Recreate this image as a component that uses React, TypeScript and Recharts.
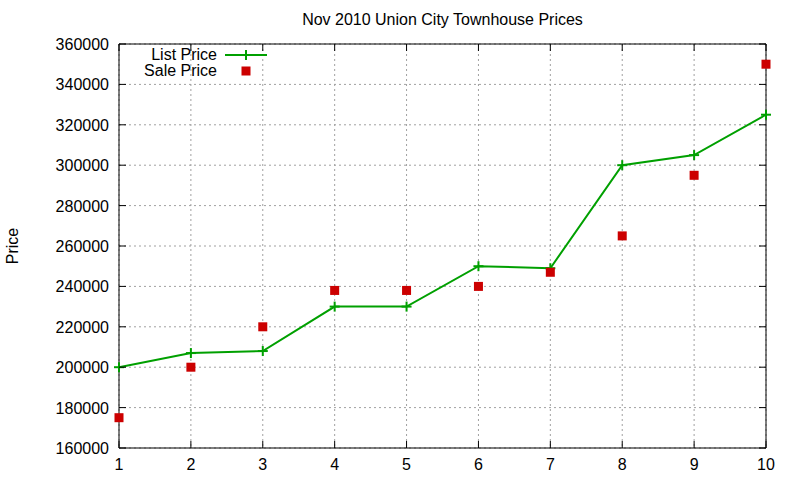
import React from "react";
import {
  ComposedChart,
  Line,
  Scatter,
  XAxis,
  YAxis,
  CartesianGrid,
  ReferenceLine,
} from "recharts";

const positions = [1, 2, 3, 4, 5, 6, 7, 8, 9, 10];
const listPrice = [200000, 207000, 208000, 230000, 230000, 250000, 249000, 300000, 305000, 325000];
const salePrice = [175000, 200000, 220000, 238000, 238000, 240000, 247000, 265000, 295000, 350000];
const yTicks = [160000, 180000, 200000, 220000, 240000, 260000, 280000, 300000, 320000, 340000, 360000];

const data = positions.map((x, i) => ({ x, list: listPrice[i], sale: salePrice[i] }));

const W = 800;
const H = 480;
const M = { top: 44, right: 34, bottom: 2, left: 0 };
const Y_W = 119;
const X_H = 30;
const LEFT = M.left + Y_W;
const RIGHT = W - M.right;
const TOP = M.top;
const BOTTOM = H - M.bottom - X_H;

const GREEN = "#00a000";
const RED = "#cc0000";
const FONT = "'Liberation Sans', Arial, sans-serif";

const XTick = (props: any) => {
  const { x, y, payload } = props;
  return (
    <g>
      <line x1={x} x2={x} y1={BOTTOM} y2={BOTTOM - 7} stroke="#000" />
      <line x1={x} x2={x} y1={TOP} y2={TOP + 7} stroke="#000" />
      <text x={x} y={y + 14} textAnchor="middle" fontSize={16} fill="#000" fontFamily={FONT}>
        {payload.value}
      </text>
    </g>
  );
};

const YTick = (props: any) => {
  const { y, payload } = props;
  return (
    <g>
      <line x1={LEFT} x2={LEFT + 7} y1={y} y2={y} stroke="#000" />
      <line x1={RIGHT} x2={RIGHT - 7} y1={y} y2={y} stroke="#000" />
      <text x={LEFT - 10} y={y + 6} textAnchor="end" fontSize={16} fill="#000" fontFamily={FONT}>
        {payload.value}
      </text>
    </g>
  );
};

const PlusDot = (props: any) => {
  const { cx, cy } = props;
  if (cx == null || cy == null) return null;
  return (
    <g stroke={GREEN} strokeWidth={2}>
      <line x1={cx - 5} x2={cx + 5} y1={cy} y2={cy} />
      <line x1={cx} x2={cx} y1={cy - 5} y2={cy + 5} />
    </g>
  );
};

const Square = (props: any) => {
  const { cx, cy } = props;
  return <rect x={cx - 4.5} y={cy - 4.5} width={9} height={9} fill={RED} />;
};

const LegendBox = () => (
  <div
    style={{
      position: "absolute",
      top: 47,
      left: 120,
      fontFamily: FONT,
      fontSize: 16,
      lineHeight: "16px",
      color: "#000",
    }}
  >
    <div style={{ display: "flex", alignItems: "center", height: 16 }}>
      <span style={{ width: 97, textAlign: "right" }}>List Price</span>
      <svg width={50} height={16} style={{ marginLeft: 8 }}>
        <line x1={0} x2={42} y1={8} y2={8} stroke={GREEN} strokeWidth={2} />
        <line x1={21} x2={21} y1={3} y2={13} stroke={GREEN} strokeWidth={2} />
      </svg>
    </div>
    <div style={{ display: "flex", alignItems: "center", height: 16 }}>
      <span style={{ width: 97, textAlign: "right" }}>Sale Price</span>
      <svg width={50} height={16} style={{ marginLeft: 8 }}>
        <rect x={16.5} y={3.5} width={9} height={9} fill={RED} />
      </svg>
    </div>
  </div>
);

export default function App() {
  return (
    <div style={{ position: "absolute", left: 0, top: 0, width: W, height: H, background: "#fff" }}>
      <div
        style={{
          position: "absolute",
          top: 11,
          left: LEFT,
          width: RIGHT - LEFT,
          textAlign: "center",
          fontFamily: FONT,
          fontSize: 16,
          color: "#000",
        }}
      >
        Nov 2010 Union City Townhouse Prices
      </div>
      <ComposedChart width={W} height={H} data={data} margin={M}>
        <CartesianGrid stroke="#a0a0a0" strokeDasharray="2 3" />
        <XAxis
          dataKey="x"
          type="number"
          domain={[1, 10]}
          ticks={positions}
          height={X_H}
          tickLine={false}
          axisLine={{ stroke: "#000" }}
          tick={<XTick />}
          interval={0}
        />
        <YAxis
          type="number"
          domain={[160000, 360000]}
          ticks={yTicks}
          width={Y_W}
          tickLine={false}
          axisLine={{ stroke: "#000" }}
          tick={<YTick />}
          interval={0}
          label={{
            value: "Price",
            angle: -90,
            position: "insideLeft",
            offset: 12,
            style: { fontFamily: FONT, fontSize: 16, fill: "#000", textAnchor: "middle" },
          }}
        />
        <ReferenceLine x={10} stroke="#000" strokeWidth={1} />
        <ReferenceLine y={360000} stroke="#000" strokeWidth={1} />
        <Line
          dataKey="list"
          stroke={GREEN}
          strokeWidth={2}
          dot={<PlusDot />}
          activeDot={false}
          isAnimationActive={false}
          type="linear"
        />
        <Scatter dataKey="sale" shape={<Square />} isAnimationActive={false} />
      </ComposedChart>
      <LegendBox />
    </div>
  );
}
